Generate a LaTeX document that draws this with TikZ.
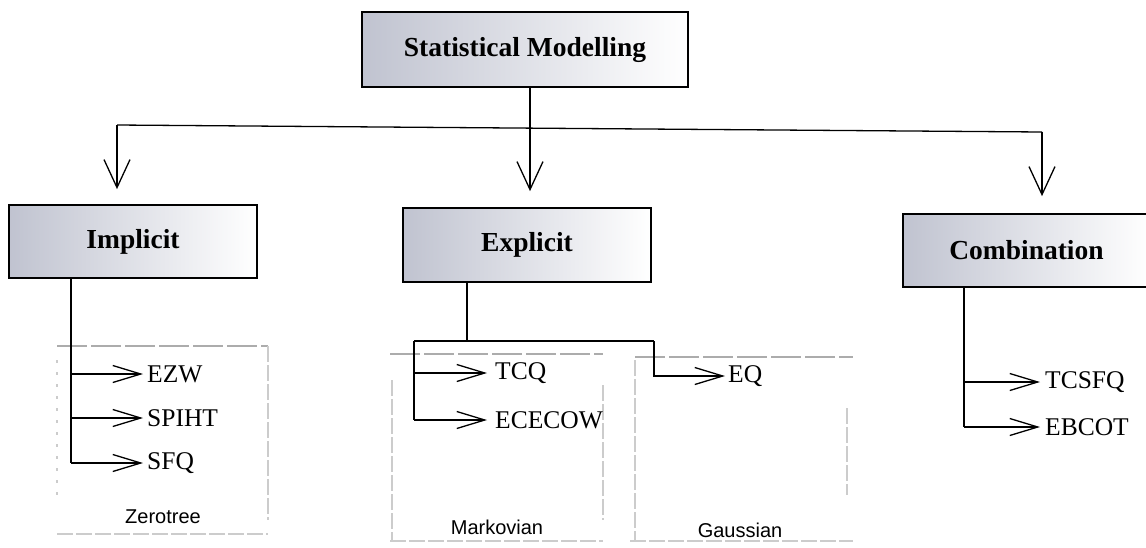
\documentclass[tikz,border=0pt]{standalone}
\usepackage{fontspec}
\setmainfont{Liberation Serif}
\newfontfamily\labelfont{Liberation Sans}
\usetikzlibrary{arrows.meta}
\definecolor{boxgray}{RGB}{192,195,208}

\begin{document}
\begin{tikzpicture}[x=1pt,y=-1pt,
  catbox/.style={draw=black, line width=1.8pt, left color=boxgray, right color=white,
    minimum width=248pt, minimum height=74pt, inner sep=0pt,
    font=\fontsize{27.5}{31}\selectfont\bfseries},
  leaf/.style={anchor=west, inner sep=0pt, font=\fontsize{25.5}{28}\selectfont},
  family/.style={inner sep=0pt, font=\labelfont\fontsize{20}{24}\selectfont},
  wire/.style={line width=1.3pt},
  down/.style={wire, -{Straight Barb[length=28pt,width=26pt,line width=1.3pt]}},
  branch/.style={wire, -{Straight Barb[length=28pt,width=17pt,line width=1.3pt]}},
  frameedge/.style={draw=gray!40, line width=1.1pt, dash pattern=on 16pt off 3pt},
  frametop/.style={draw=gray!65, line width=1.3pt, dash pattern=on 30pt off 4pt}
]
\useasboundingbox (0,0) rectangle (1146,547);

% ---- light frames grouping the coders ----
% Zerotree
\draw[frametop]  (57,346) -- (268,346);
\draw[frameedge] (268,346) -- (268,520);
\draw[frameedge, dash pattern=on 3pt off 9pt] (57,360) -- (57,503);
\draw[frameedge] (57,534) -- (268,534);
% Markovian
\draw[frametop]  (390,354) -- (603,354);
\draw[frameedge] (392,380) -- (392,540);
\draw[frameedge] (603,385) -- (603,520);
\draw[frameedge] (390,541) -- (603,541);
% Gaussian
\draw[frametop]  (635,357) -- (853,357);
\draw[frameedge] (635,360) -- (635,540);
\draw[frameedge] (847,408) -- (847,495);
\draw[frameedge] (630,541) -- (853,541);

\node[family] (zlab) at (163,517) {Zerotree};
\node[family] (mlab) at (497,527) {Markovian};
\node[family] (glab) at (740,530) {Gaussian};

% ---- category boxes ----
\node[catbox, minimum width=326pt, minimum height=75pt] (stat) at (525,49.5) {Statistical Modelling};
\node[catbox, minimum height=73pt] (impl) at (133,241.5) {Implicit};
\node[catbox] (expl) at (527,245) {Explicit};
\node[catbox, minimum width=247pt, minimum height=73pt] (comb) at (1026.5,250.5) {Combination};

% ---- top level split ----
\coordinate (hubL) at (117,125);
\coordinate (hubM) at (530,128);
\coordinate (hubR) at (1042,132);
\draw[wire] (stat.south -| hubM) -- (hubM);
\draw[wire] (hubL) -- (hubR);
\draw[down, shorten >=15pt] (hubL) -- (hubL |- impl.north);
\draw[down, shorten >=16pt] (hubM) -- (hubM |- expl.north);
\draw[down, shorten >=17pt] (hubR) -- (hubR |- comb.north);

% ---- implicit coders ----
\node[leaf] (ezw)   at (147,374) {EZW};
\node[leaf] (spiht) at (147,418) {SPIHT};
\node[leaf] (sfq)   at (147,463) {SFQ};
\coordinate (zt) at (71,463);
\draw[wire] (impl.south -| zt) -- (zt |- sfq);
\draw[branch, shorten >=4pt] (zt |- ezw) -- (ezw);
\draw[branch, shorten >=4pt] (zt |- spiht) -- (spiht);
\draw[branch, shorten >=4pt] (zt |- sfq) -- (sfq);

% ---- explicit coders ----
\node[leaf] (tcq)    at (495,373) {TCQ};
\node[leaf] (ececow) at (495,420) {ECECOW};
\node[leaf] (eq)     at (728,376) {EQ};
\coordinate (eb)  at (467,341);
\coordinate (ebl) at (414,341);
\coordinate (ebr) at (654,341);
\draw[wire] (expl.south -| eb) -- (eb);
\draw[wire] (ebl) -- (ebr);
\draw[wire] (ebl) -- (ebl |- ececow);
\draw[branch, shorten >=8pt] (ebl |- tcq) -- (tcq);
\draw[branch, shorten >=8pt] (ebl |- ececow) -- (ececow);
\draw[branch, shorten >=3pt] (ebr) -- (ebr |- eq) -- (eq);

% ---- combined coders ----
\node[leaf] (tcsfq) at (1045,382) {TCSFQ};
\node[leaf] (ebcot) at (1045,427) {EBCOT};
\coordinate (ct) at (964,427);
\draw[wire] (comb.south -| ct) -- (ct |- ebcot);
\draw[branch, shorten >=5pt] (ct |- tcsfq) -- (tcsfq);
\draw[branch, shorten >=5pt] (ct |- ebcot) -- (ebcot);
\end{tikzpicture}
\end{document}
